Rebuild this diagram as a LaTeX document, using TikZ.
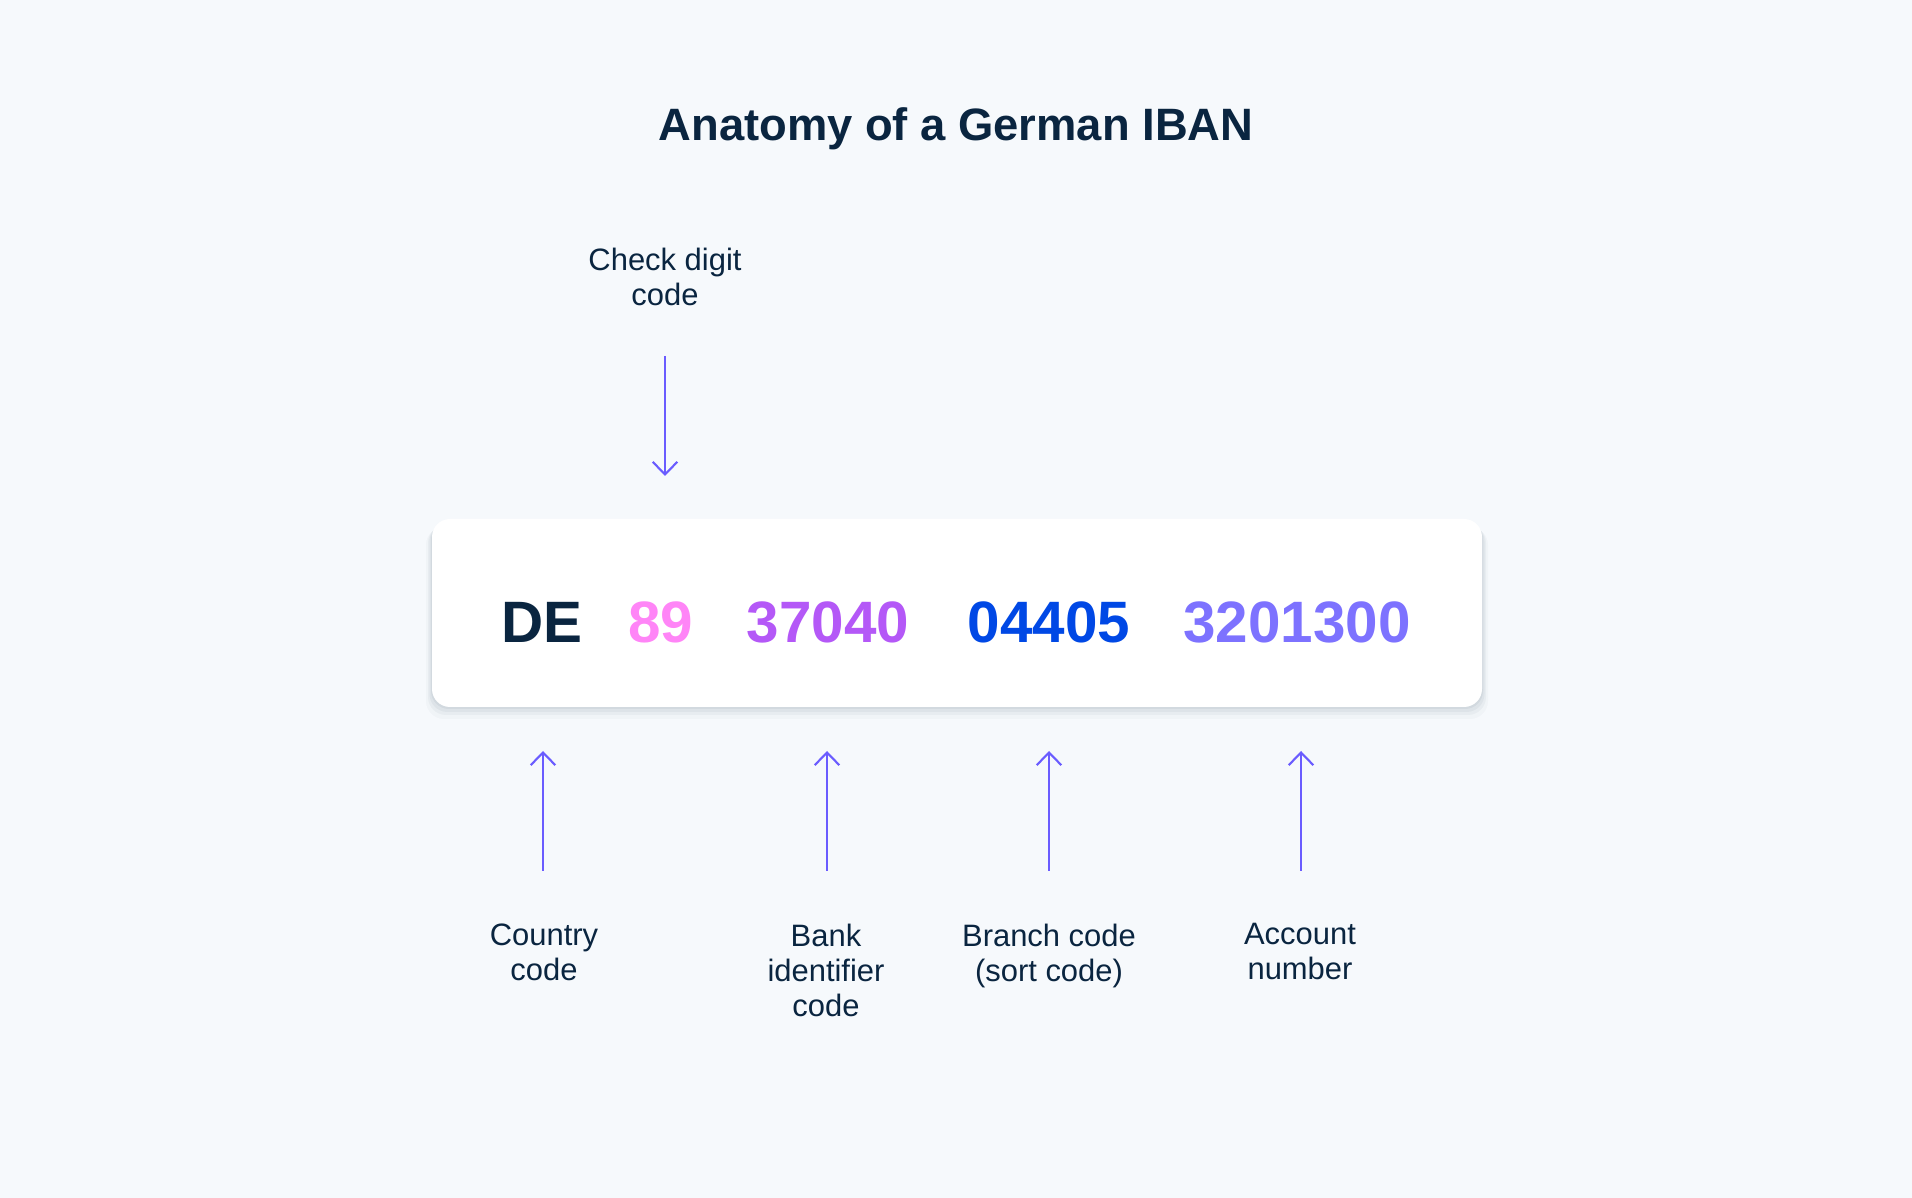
\documentclass[tikz,border=0pt]{standalone}
\usepackage{fontspec}
\setmainfont{Liberation Sans}
\usetikzlibrary{arrows.meta}

\definecolor{ibanbg}{HTML}{F6F9FC}
\definecolor{ibannavy}{HTML}{0A2540}
\definecolor{ibanpink}{HTML}{FF85F7}
\definecolor{ibanpurple}{HTML}{B458F7}
\definecolor{ibanblue}{HTML}{0048E5}
\definecolor{ibanlilac}{HTML}{7D72FF}
\definecolor{ibanarrow}{HTML}{6A5CFF}

\tikzset{
	part/.style={inner sep=0pt, anchor=base, font=\fontsize{16.6}{20}\selectfont\bfseries},
	lbl/.style={inner sep=0pt, anchor=north, align=center, text=ibannavy, font=\fontsize{8.8}{9.95}\selectfont},
	pointer/.style={draw=ibanarrow, line width=0.6pt, -{Straight Barb[length=3.6pt, width=7pt, line width=0.6pt]}}
}

\begin{document}
\begin{tikzpicture}[x=0.01cm, y=-0.01cm]
				%%%%% START %%%%%
				\def\boxl{432}
				\def\boxr{1482}
				\def\boxt{519}
				\def\boxb{707}
				\def\rad{0.18cm}
				\def\base{643}
				\def\tip{751}
				\def\tail{871}

				\fill[ibanbg] (0,0) rectangle (1912,1198);
				\useasboundingbox (0,0) rectangle (1912,1198);

				\node[inner sep=0pt, anchor=base, text=ibannavy, font=\fontsize{12.9}{15}\selectfont\bfseries] (title) at (956,141) {Anatomy of a German IBAN};

				% soft shadow under the card
				\foreach \s/\o in {12/0.025, 8/0.035, 5/0.045, 2/0.05}
					\fill[ibannavy, opacity=\o, rounded corners=\rad] (\boxl-\s/2,\boxt+\s/2+2) rectangle (\boxr+\s/2,\boxb+\s);
				\fill[white, rounded corners=\rad] (\boxl,\boxt) rectangle (\boxr,\boxb);

				\node[part, text=ibannavy] (de) at (542,\base) {DE};
				\node[part, text=ibanpink] (chk) at (661,\base) {89};
				\node[part, text=ibanpurple] (bank) at (828,\base) {37040};
				\node[part, text=ibanblue] (branch) at (1049,\base) {04405};
				\node[part, text=ibanlilac] (acct) at (1297,\base) {3201300};

				\node[lbl] (lchk) at (665,247) {Check digit\\code};
				\node[lbl] (lde) at (544,923) {Country\\code};
				\node[lbl] (lbank) at (826,923) {Bank\\identifier\\code};
				\node[lbl] (lbranch) at (1049,923) {Branch code\\(sort code)};
				\node[lbl] (lacct) at (1300,923) {Account\\number};

				\coordinate (chkfrom) at (665,356);
				\coordinate (chkto) at (665,476);
				\draw[pointer] (chkfrom) -- (chkto);

				\foreach \n/\x in {de/543, bank/827, branch/1049, acct/1301}{
					\coordinate (\n from) at (\x,\tail);
					\coordinate (\n to) at (\x,\tip);
					\draw[pointer] (\n from) -- (\n to);
				}
				%%%%% END %%%%%
\end{tikzpicture}
\end{document}
